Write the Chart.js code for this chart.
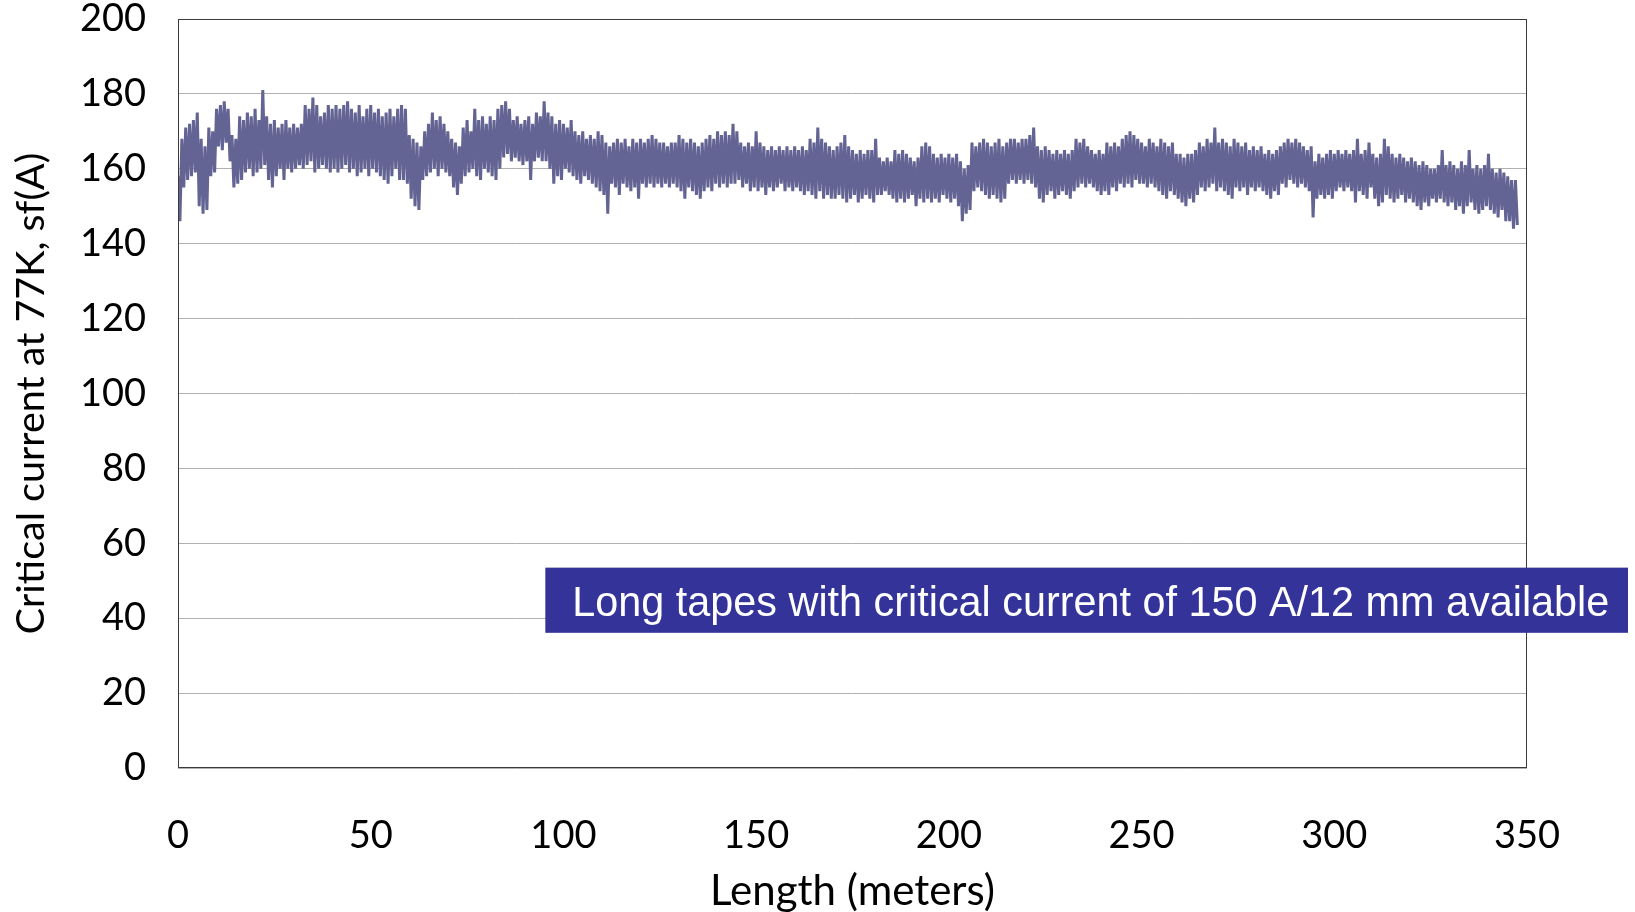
<!DOCTYPE html>
<html>
<head>
<meta charset="utf-8">
<script src="https://cdn.jsdelivr.net/npm/chart.js@4.4.0/dist/chart.umd.min.js"></script>
<style>
    html, body { margin: 0; padding: 0; background: #ffffff; }
    #wrap { width: 1635px; height: 912px; }
</style>
</head>
<body>
<div id="wrap"><canvas id="icChart" width="1635" height="912"></canvas></div>
<script>
// Critical current along the tape, read per meter from the picture:
// upper and lower edge of the noise band at each meter
const lengths = [];
for (let m = 0; m < 348; m++) lengths.push(m);

const upperIc = [
    158, 168, 171, 172, 173, 175, 168, 166, 171, 170,
    176, 177, 178, 176, 169, 168, 174, 173, 175, 174,
    176, 173, 181, 174, 172, 173, 171, 172, 173, 171,
    172, 171, 172, 177, 176, 179, 177, 174, 175, 177,
    176, 177, 176, 177, 178, 176, 175, 177, 174, 176,
    177, 175, 176, 174, 175, 176, 174, 176, 177, 176,
    169, 168, 167, 166, 170, 172, 175, 173, 174, 172,
    170, 168, 167, 166, 171, 173, 170, 176, 173, 174,
    172, 174, 173, 176, 177, 178, 176, 173, 174, 172,
    173, 174, 172, 175, 174, 178, 175, 174, 172, 173,
    172, 171, 173, 170, 169, 170, 168, 169, 168, 170,
    169, 167, 166, 167, 168, 167, 168, 166, 168, 167,
    168, 167, 168, 169, 168, 167, 167, 166, 167, 167,
    169, 168, 167, 168, 167, 166, 167, 168, 169, 168,
    170, 169, 170, 169, 172, 170, 167, 166, 167, 166,
    170, 167, 166, 165, 166, 165, 166, 165, 166, 165,
    166, 165, 166, 165, 168, 167, 171, 168, 167, 166,
    165, 166, 167, 169, 166, 165, 164, 165, 164, 165,
    165, 168, 163, 162, 163, 162, 165, 164, 165, 164,
    163, 162, 163, 166, 167, 166, 164, 163, 164, 163,
    164, 163, 164, 162, 160, 161, 167, 166, 167, 168,
    167, 166, 167, 168, 166, 167, 168, 168, 167, 168,
    168, 169, 171, 166, 165, 166, 165, 164, 165, 164,
    165, 164, 165, 168, 167, 168, 166, 165, 164, 165,
    164, 167, 166, 167, 166, 168, 169, 170, 169, 168,
    167, 166, 168, 167, 166, 168, 167, 166, 167, 164,
    164, 163, 164, 164, 165, 167, 166, 168, 167, 171,
    167, 168, 167, 166, 168, 167, 166, 167, 165, 166,
    165, 166, 164, 165, 164, 165, 166, 167, 168, 167,
    168, 167, 166, 165, 166, 162, 164, 163, 164, 165,
    164, 165, 164, 165, 164, 165, 168, 164, 165, 167,
    164, 163, 164, 168, 166, 164, 163, 164, 163, 162,
    163, 162, 161, 162, 161, 160, 160, 161, 165, 161,
    162, 161, 160, 162, 161, 165, 160, 161, 160, 161,
    164, 160, 159, 160, 159, 158, 157, 157
];

const lowerIc = [
    146, 155, 157, 158, 159, 150, 148, 149, 158, 159,
    166, 165, 167, 162, 155, 156, 157, 159, 160, 158,
    159, 160, 161, 157, 155, 158, 160, 157, 160, 159,
    160, 161, 160, 161, 162, 159, 160, 161, 160, 159,
    160, 159, 160, 161, 159, 160, 158, 159, 160, 158,
    160, 159, 158, 157, 156, 158, 160, 157, 157, 156,
    152, 150, 149, 157, 158, 159, 160, 158, 160, 159,
    158, 155, 153, 156, 158, 159, 160, 158, 157, 160,
    159, 158, 157, 160, 163, 164, 162, 163, 162, 161,
    162, 157, 162, 163, 162, 162, 160, 156, 158, 157,
    160, 159, 158, 157, 156, 158, 157, 156, 155, 154,
    153, 148, 156, 155, 153, 156, 155, 154, 155, 152,
    156, 155, 156, 155, 156, 155, 156, 155, 156, 155,
    154, 152, 155, 154, 153, 152, 154, 155, 154, 156,
    155, 156, 155, 156, 156, 157, 155, 156, 154, 155,
    154, 155, 153, 155, 154, 155, 156, 154, 155, 154,
    155, 154, 153, 154, 153, 152, 154, 152, 153, 152,
    152, 153, 152, 151, 152, 153, 151, 152, 153, 152,
    151, 153, 153, 154, 153, 152, 151, 152, 151, 152,
    153, 150, 152, 151, 152, 151, 152, 151, 153, 152,
    151, 152, 150, 146, 148, 149, 154, 155, 154, 153,
    152, 153, 152, 151, 152, 156, 157, 156, 157, 156,
    157, 156, 155, 152, 151, 153, 154, 152, 153, 154,
    153, 152, 154, 155, 156, 155, 156, 155, 154, 153,
    154, 153, 155, 154, 156, 155, 156, 155, 157, 156,
    156, 155, 156, 155, 154, 153, 152, 154, 153, 152,
    151, 150, 152, 151, 153, 155, 154, 155, 156, 154,
    155, 154, 153, 152, 155, 154, 155, 153, 155, 154,
    155, 154, 153, 152, 154, 153, 156, 155, 157, 156,
    155, 156, 155, 154, 147, 152, 153, 152, 153, 152,
    154, 155, 154, 155, 154, 151, 154, 153, 152, 155,
    152, 150, 151, 153, 152, 151, 152, 153, 151, 152,
    151, 150, 149, 151, 150, 152, 151, 152, 151, 150,
    151, 149, 150, 148, 150, 151, 149, 148, 149, 150,
    149, 148, 147, 149, 146, 146, 144, 145
];

const xTicks = [0, 50, 100, 150, 200, 250, 300, 350];
const yTicks = [0, 20, 40, 60, 80, 100, 120, 140, 160, 180, 200];

const noteText = 'Long tapes with critical current of 150 A/12 mm available';

// Build the zig-zag series: upper edge at the meter, lower edge half a meter later
const points = [];
lengths.forEach((m, i) => {
    points.push({ x: m, y: upperIc[i] });
    points.push({ x: m + 0.5, y: lowerIc[i] });
});

const tickFont = { family: 'Lato', size: 38, lineHeight: 1 };

// Frame round the plot area and the blue note box
const framePlugin = {
    id: 'frame',
    afterDatasetsDraw(chart) {
        const { ctx, chartArea } = chart;
        ctx.save();
        ctx.strokeStyle = '#3a3a3a';
        ctx.lineWidth = 1;
        ctx.strokeRect(chartArea.left + 0.5, chartArea.top + 0.5,
            chartArea.right - chartArea.left - 1, chartArea.bottom - chartArea.top - 1);
        ctx.restore();
    },
    afterDraw(chart) {
        const { ctx } = chart;
        const xs = chart.scales.x;
        const ys = chart.scales.y;
        const left = xs.getPixelForValue(95.3);
        const top = ys.getPixelForValue(53.5);
        const bottom = ys.getPixelForValue(36.1);
        const right = chart.width - 7;
        ctx.save();
        ctx.fillStyle = '#333399';
        ctx.fillRect(left, top, right - left, bottom - top);
        ctx.fillStyle = '#ffffff';
        ctx.font = '43px "Liberation Sans", Arial, sans-serif';
        ctx.textBaseline = 'alphabetic';
        const w = ctx.measureText(noteText).width;
        const targetW = 1037;
        ctx.translate(left + 27, bottom - 17);
        ctx.scale(targetW / w, 1);
        ctx.fillText(noteText, 0, 0);
        ctx.restore();
    }
};

const ctx = document.getElementById('icChart');

new Chart(ctx, {
    type: 'line',
    data: {
        datasets: [{
            label: 'Ic',
            data: points,
            borderColor: '#646494',
            borderWidth: 3,
            pointRadius: 0,
            tension: 0,
            fill: false
        }]
    },
    options: {
        responsive: false,
        animation: false,
        layout: { padding: { left: 0, right: 108, top: 19, bottom: 0 } },
        plugins: {
            legend: { display: false },
            tooltip: { enabled: false }
        },
        scales: {
            x: {
                type: 'linear',
                min: 0,
                max: 350,
                afterBuildTicks: (scale) => { scale.ticks = xTicks.map(v => ({ value: v })); },
                afterFit: (scale) => { scale.height = 144; },
                grid: { display: false },
                border: { display: false },
                ticks: { color: '#000000', font: tickFont, padding: 41, maxRotation: 0 },
                title: {
                    display: true,
                    text: 'Length (meters)',
                    color: '#000000',
                    font: { family: 'Lato', size: 42, lineHeight: 1 },
                    padding: { top: 0, bottom: 0 }
                }
            },
            y: {
                min: 0,
                max: 200,
                afterBuildTicks: (scale) => { scale.ticks = yTicks.map(v => ({ value: v })); },
                afterFit: (scale) => { scale.width = 178; },
                grid: {
                    color: '#b0b0b0',
                    lineWidth: 1,
                    drawTicks: true,
                    tickLength: 32,
                    tickColor: 'rgba(0,0,0,0)'
                },
                border: { display: false },
                ticks: { color: '#000000', font: tickFont, padding: 0 },
                title: {
                    display: true,
                    text: 'Critical current at 77K, sf(A)',
                    color: '#000000',
                    font: { family: 'Lato', size: 39.5, lineHeight: 1.1 },
                    padding: { top: 10, bottom: 0 }
                }
            }
        }
    },
    plugins: [framePlugin]
});
</script>
</body>
</html>
